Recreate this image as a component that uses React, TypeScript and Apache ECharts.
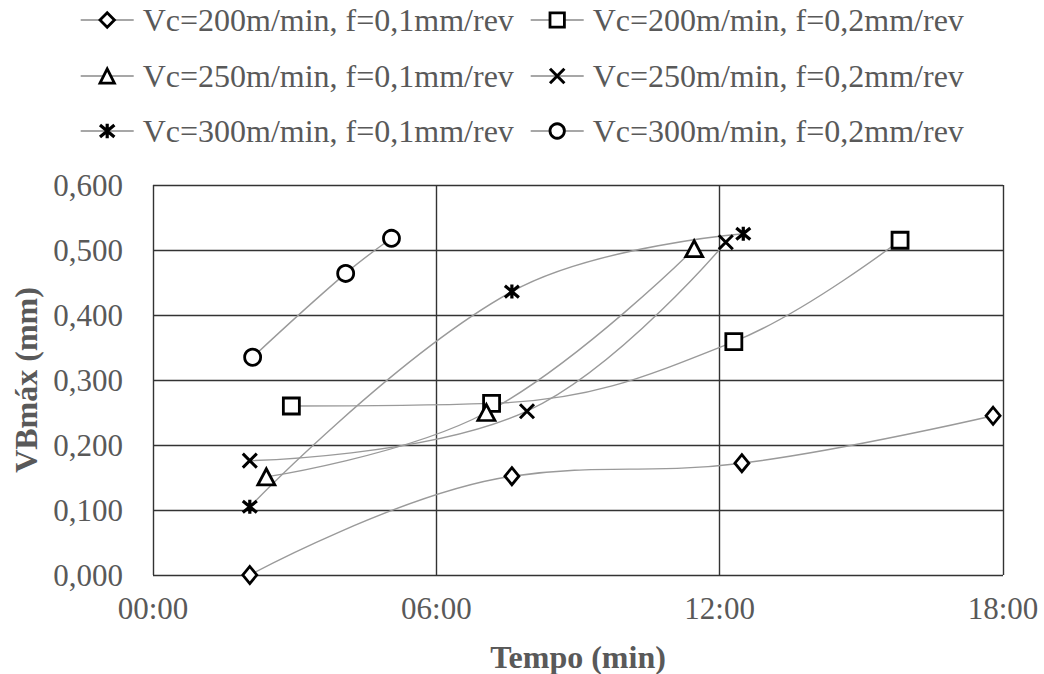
import React, { useEffect, useRef } from "react";
import * as echarts from "echarts";

const seriesNames = [
  "Vc=200m/min, f=0,1mm/rev",
  "Vc=200m/min, f=0,2mm/rev",
  "Vc=250m/min, f=0,1mm/rev",
  "Vc=250m/min, f=0,2mm/rev",
  "Vc=300m/min, f=0,1mm/rev",
  "Vc=300m/min, f=0,2mm/rev",
];

// x = tempo (min), y = VBmáx (mm)
const s200f01: [number, number][] = [[2.05, 0.0], [7.6, 0.152], [12.47, 0.172], [17.79, 0.245]];
const s200f02: [number, number][] = [[2.93, 0.26], [7.17, 0.264], [12.3, 0.359], [15.82, 0.515]];
const s250f01: [number, number][] = [[2.4, 0.151], [7.06, 0.25], [11.46, 0.502]];
const s250f02: [number, number][] = [[2.05, 0.176], [7.92, 0.252], [12.13, 0.512]];
const s300f01: [number, number][] = [[2.05, 0.105], [7.6, 0.436], [12.5, 0.525]];
const s300f02: [number, number][] = [[2.11, 0.335], [4.08, 0.464], [5.05, 0.518]];

const xTicks = [0, 6, 12, 18];
const yMax = 0.6;
const yStep = 0.1;

const FONT = "'Liberation Serif', 'Times New Roman', serif";
const TEXT = "#595959";

const X_PATH = "path://M0 0L10 10M10 0L0 10";
const STAR_PATH = "path://M0 0L10 10M10 0L0 10M5 -1L5 11";

export default function App() {
  const ref = useRef<HTMLDivElement>(null);
  useEffect(() => {
    document.body.style.margin = "0";
    document.body.style.overflow = "hidden";
    const chart = echarts.init(ref.current!, null, { renderer: "svg" });
    const datas = [s200f01, s200f02, s250f01, s250f02, s300f01, s300f02];
    const symbols = ["diamond", "rect", "triangle", X_PATH, STAR_PATH, "circle"];
    const sizes = [[14, 17], 16, [17, 16], 14, 14, 16];
    const borders = [2.8, 2.8, 2.8, 3, 3.2, 2.8];
    const series = datas.map((d, i) => ({
      name: seriesNames[i],
      type: "line",
      data: d,
      smooth: 0.4,
      symbol: symbols[i],
      symbolSize: sizes[i],
      showAllSymbol: true,
      clip: false,
      lineStyle: { color: "#9a9a9a", width: 1.4 },
      itemStyle: { color: "#ffffff", borderColor: "#000000", borderWidth: borders[i] },
      emphasis: { disabled: true },
      z: 3,
    }));
    const legendPos = [
      [80, 4], [530, 4],
      [80, 60], [530, 60],
      [80, 115], [530, 115],
    ];
    const legends = seriesNames.map((n, i) => ({
      show: true,
      data: [n],
      left: legendPos[i][0],
      top: legendPos[i][1],
      itemWidth: 53,
      itemHeight: 18,
      padding: 0,
      selectedMode: false,
      itemStyle: { borderWidth: borders[i], borderColor: "#000000", color: "#ffffff" },
      lineStyle: { color: "#8a8a8a", width: 1.4 },
      textStyle: { color: TEXT, fontSize: 32, fontFamily: FONT, padding: [0, 0, 0, 4] },
    }));
    chart.setOption({
      animation: false,
      backgroundColor: "#ffffff",
      legend: legends,
      grid: { left: 153, right: 41, top: 185, bottom: 99, containLabel: false, outerBoundsMode: "none" },
      xAxis: {
        type: "value",
        min: xTicks[0],
        max: xTicks[xTicks.length - 1],
        interval: 6,
        name: "Tempo (min)",
        nameLocation: "middle",
        nameGap: 66,
        nameTextStyle: { color: TEXT, fontSize: 32, fontFamily: FONT, fontWeight: "bold" },
        axisLine: { show: false },
        axisTick: { show: false },
        axisLabel: {
          color: TEXT,
          fontSize: 31,
          fontFamily: FONT,
          margin: 18,
          formatter: (v: number) => (v < 10 ? "0" + v : String(v)) + ":00",
        },
        splitLine: { show: true, lineStyle: { color: "#333333", width: 1.4 } },
      },
      yAxis: {
        type: "value",
        min: 0,
        max: yMax,
        interval: yStep,
        name: "VBmáx (mm)",
        nameLocation: "middle",
        nameGap: 110,
        nameTextStyle: { color: TEXT, fontSize: 32, fontFamily: FONT, fontWeight: "bold" },
        axisLine: { show: false },
        axisTick: { show: false },
        axisLabel: {
          color: TEXT,
          fontSize: 31,
          fontFamily: FONT,
          margin: 30,
          formatter: (v: number) => v.toFixed(3).replace(".", ","),
        },
        splitLine: { show: true, lineStyle: { color: "#333333", width: 1.4 } },
      },
      series,
    });
    return () => chart.dispose();
  }, []);
  return <div ref={ref} style={{ width: 1044, height: 674 }} />;
}
